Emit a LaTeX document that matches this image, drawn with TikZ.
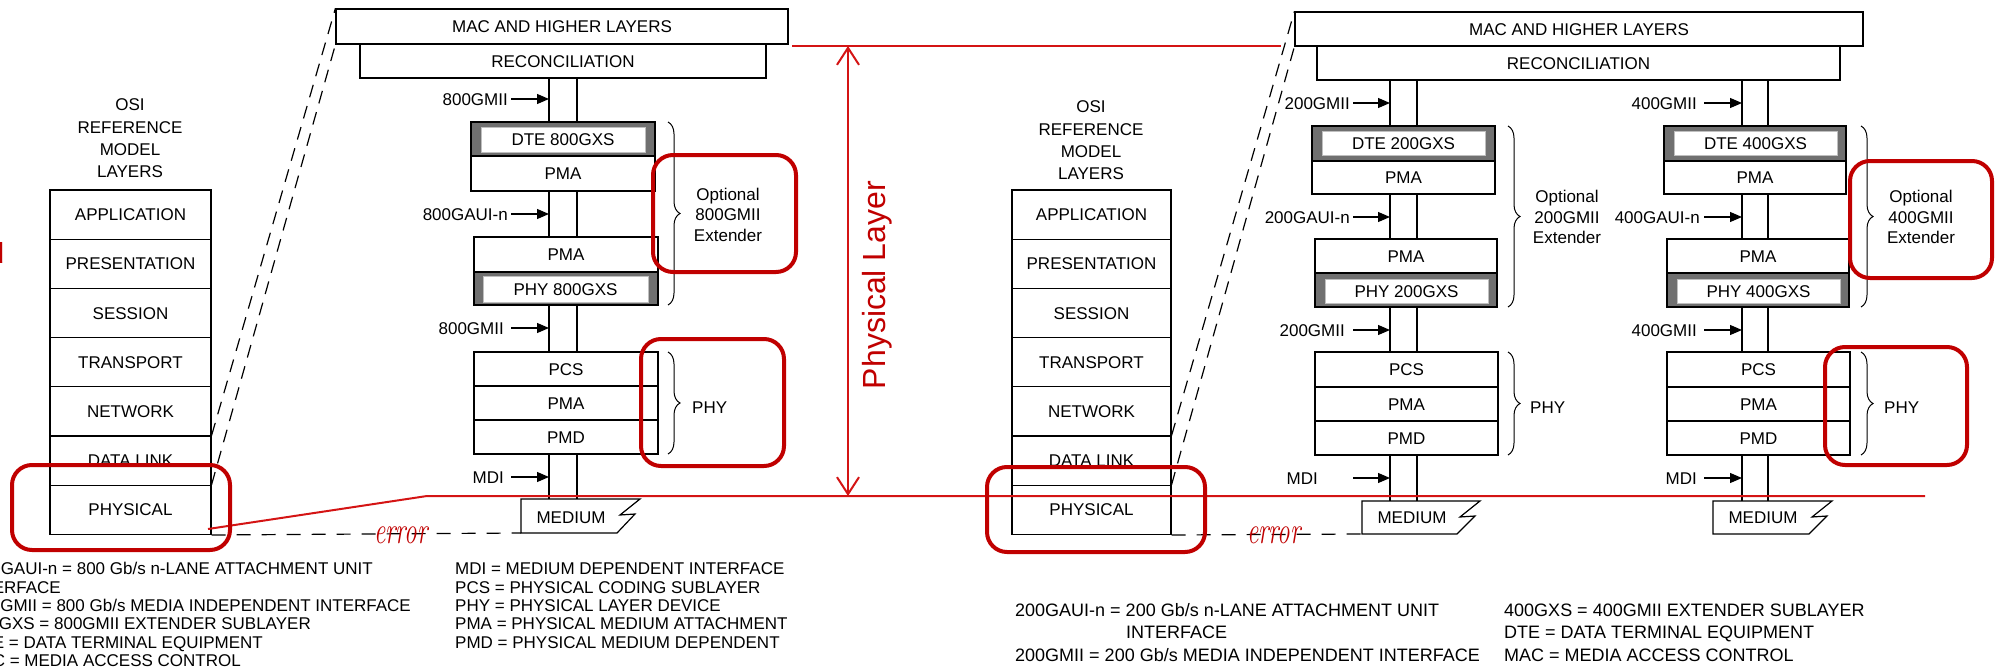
\documentclass[tikz,border=0pt]{standalone}
\usepackage{fontspec}
\usepackage{graphicx}
\setmainfont{Liberation Sans}
\newfontfamily\errfont{Latin Modern Roman}
\usetikzlibrary{arrows.meta,decorations.pathreplacing}
\definecolor{boxred}{RGB}{192,0,0}
\definecolor{linered}{RGB}{212,20,20}
\definecolor{gxsgray}{RGB}{112,112,112}
\newcommand\mkbox[7]{%
  \pgfmathsetmacro\myW{#5-#3}%
  \pgfmathsetmacro\myH{#6-#4}%
  \pgfmathsetmacro\myX{(#3+#5)/2}%
  \pgfmathsetmacro\myY{(#4+#6)/2}%
  \node[#1, minimum width=\myW pt, minimum height=\myH pt] (#2) at (\myX,\myY) {#7};}
\newcommand\mymedium[5]{% name, left, top, bottom, top-right
  \draw[mline] (#2,#3) coordinate (#1nw) -- (#5,#3) -- (#5-20,#3+16) -- (#5-5,#3+15) -- (#5-23,#4) -- (#2,#4) coordinate (#1sw) -- cycle;}
\tikzset{
  box/.style={draw=black, line width=1.2pt, inner sep=0pt, font=\fontsize{17}{17}\selectfont, text height=12.2pt, text depth=0pt},
  gxs/.style={draw=black, line width=1.2pt, fill=gxsgray, inner sep=0pt},
  gxsin/.style={draw=black!25, line width=0.8pt, fill=white, inner sep=0pt, font=\fontsize{17}{17}\selectfont, text height=12.2pt, text depth=0pt},
  lbl/.style={inner sep=0pt, font=\fontsize{17}{17}\selectfont, text height=12.2pt, text depth=0pt},
  opt/.style={inner sep=0pt, align=center, font=\fontsize{17}{20.5}\selectfont},
  osititle/.style={inner sep=0pt, align=center, font=\fontsize{17}{22.3}\selectfont},
  chan/.style={line width=1.2pt},
  mline/.style={line width=1.2pt},
  ifarrow/.style={line width=1.2pt, -{Triangle[length=12pt,width=10pt]}},
  brc/.style={decorate, decoration={brace, amplitude=12pt}, line width=1pt},
  redbox/.style={draw=boxred, line width=4pt, rounded corners=20pt},
  redline/.style={draw=linered, line width=2pt},
  osidash/.style={dash pattern=on 13pt off 9pt, line width=1.2pt},
  meddash/.style={dash pattern=on 14pt off 11pt, line width=1.2pt},
  legl/.style={inner sep=0pt, font=\fontsize{17}{17}\selectfont, anchor=base east},
  legw/.style={inner sep=0pt, font=\fontsize{17}{17}\selectfont, anchor=base west},
  legr/.style={inner sep=0pt, font=\fontsize{18}{18}\selectfont, anchor=base west},
  errtxt/.style={inner sep=0pt, text=boxred, anchor=base, font=\fontsize{38}{38}\selectfont},
}
\begin{document}
\begin{tikzpicture}[x=1pt,y=-1pt]
\useasboundingbox (0,0) rectangle (1995,669);

% ---------------- LEFT OSI ----------------
\node[osititle] (osiL) at (130,138.5) {OSI\\REFERENCE\\MODEL\\LAYERS};
\mkbox{box}{apL}{50}{190}{211}{239.2}{APPLICATION}
\mkbox{box}{prL}{50}{239.2}{211}{288.4}{PRESENTATION}
\mkbox{box}{seL}{50}{288.4}{211}{337.6}{SESSION}
\mkbox{box}{trL}{50}{337.6}{211}{386.8}{TRANSPORT}
\mkbox{box}{neL}{50}{386.8}{211}{436}{NETWORK}
\mkbox{box}{dlL}{50}{436}{211}{485.2}{DATA LINK}
\mkbox{box}{phL}{50}{485.2}{211}{534.4}{PHYSICAL}

% ---------------- LEFT 800G STACK ----------------
\mkbox{box}{macL}{336}{9}{788}{44}{MAC AND HIGHER LAYERS}
\mkbox{box}{recL}{360}{44}{766}{78}{RECONCILIATION}
\mkbox{gxs}{dteL}{471}{122}{655}{156}{}
\mkbox{gxsin}{dteLi}{481}{127}{645}{152}{DTE 800GXS}
\mkbox{box}{pmaLa}{471}{156}{655}{191}{PMA}
\mkbox{box}{pmaLb}{474}{237}{658}{272}{PMA}
\mkbox{gxs}{phyxL}{474}{272}{658}{305}{}
\mkbox{gxsin}{phyxLi}{483}{276}{648}{302}{PHY 800GXS}
\mkbox{box}{pcsL}{474}{352}{658}{386}{PCS}
\mkbox{box}{pmaLc}{474}{386}{658}{420}{PMA}
\mkbox{box}{pmdL}{474}{420}{658}{454}{PMD}
\mymedium{medL}{521}{499}{533}{640}
\node[lbl] (medLt) at (571,517) {MEDIUM};

\coordinate (cLa) at (549,0);
\coordinate (cLb) at (577,0);
\coordinate (aLs) at (511,0);
\foreach \c in {cLa,cLb}{
  \draw[chan] (recL.south -| \c) -- (dteL.north -| \c);
  \draw[chan] (pmaLa.south -| \c) -- (pmaLb.north -| \c);
  \draw[chan] (phyxL.south -| \c) -- (pcsL.north -| \c);
  \draw[chan] (pmdL.south -| \c) -- (medLnw -| \c);
}
\node[lbl, anchor=east] (gLa) at (508,99) {800GMII};
\node[lbl, anchor=east] (auL) at (508,214) {800GAUI-n};
\node[lbl, anchor=east] (gLb) at (504,328) {800GMII};
\node[lbl, anchor=east] (mdiL) at (504,477) {MDI};
\foreach \n in {gLa,auL,gLb,mdiL}{
  \draw[ifarrow] (\n.east -| aLs) -- (\n.east -| cLa);
}
\draw[brc] (668,122) -- (668,305);
\draw[brc] (668,352) -- (668,454);
\node[opt] (optL) at (728,214.5) {Optional\\800GMII\\Extender};
\node[lbl, anchor=west] (phyL) at (692,407) {PHY};

\draw[osidash] (dlL.north east) -- (macL.north west);
\draw[osidash] (phL.north east) -- (macL.south west);
\draw[meddash] (phL.south east) -- (medLsw);

% ---------------- RIGHT OSI ----------------
\node[osititle] (osiR) at (1091,140.5) {OSI\\REFERENCE\\MODEL\\LAYERS};
\mkbox{box}{apR}{1012}{190}{1171}{239.2}{APPLICATION}
\mkbox{box}{prR}{1012}{239.2}{1171}{288.4}{PRESENTATION}
\mkbox{box}{seR}{1012}{288.4}{1171}{337.6}{SESSION}
\mkbox{box}{trR}{1012}{337.6}{1171}{386.8}{TRANSPORT}
\mkbox{box}{neR}{1012}{386.8}{1171}{436}{NETWORK}
\mkbox{box}{dlR}{1012}{436}{1171}{485.2}{DATA LINK}
\mkbox{box}{phR}{1012}{485.2}{1171}{534.4}{PHYSICAL}

% ---------------- RIGHT STACKS ----------------
\mkbox{box}{macR}{1295}{12}{1863}{46}{MAC AND HIGHER LAYERS}
\mkbox{box}{recR}{1317}{46}{1840}{80}{RECONCILIATION}
% 200G
\mkbox{gxs}{dteR}{1312}{126}{1495}{161}{}
\mkbox{gxsin}{dteRi}{1322}{131}{1485}{155}{DTE 200GXS}
\mkbox{box}{pmaRa}{1312}{161}{1495}{194}{PMA}
\mkbox{box}{pmaRb}{1315}{239}{1497}{273}{PMA}
\mkbox{gxs}{phyxR}{1315}{273}{1497}{307}{}
\mkbox{gxsin}{phyxRi}{1325}{279}{1488}{303}{PHY 200GXS}
\mkbox{box}{pcsR}{1315}{352}{1498}{387}{PCS}
\mkbox{box}{pmaRc}{1315}{387}{1498}{421}{PMA}
\mkbox{box}{pmdR}{1315}{421}{1498}{455}{PMD}
\mymedium{medR}{1362}{501}{534}{1480}
\node[lbl] (medRt) at (1412,517) {MEDIUM};
% 400G
\mkbox{gxs}{dteS}{1664}{126}{1846}{161}{}
\mkbox{gxsin}{dteSi}{1674}{131}{1837}{155}{DTE 400GXS}
\mkbox{box}{pmaSa}{1664}{161}{1846}{194}{PMA}
\mkbox{box}{pmaSb}{1667}{239}{1849}{273}{PMA}
\mkbox{gxs}{phyxS}{1667}{273}{1849}{307}{}
\mkbox{gxsin}{phyxSi}{1677}{279}{1840}{303}{PHY 400GXS}
\mkbox{box}{pcsS}{1667}{352}{1850}{387}{PCS}
\mkbox{box}{pmaSc}{1667}{387}{1850}{421}{PMA}
\mkbox{box}{pmdS}{1667}{421}{1850}{455}{PMD}
\mymedium{medS}{1713}{501}{534}{1832}
\node[lbl] (medSt) at (1763,517) {MEDIUM};

\coordinate (cRa) at (1390,0);
\coordinate (cRb) at (1417,0);
\coordinate (cSa) at (1742,0);
\coordinate (cSb) at (1768,0);
\foreach \c in {cRa,cRb}{
  \draw[chan] (recR.south -| \c) -- (dteR.north -| \c);
  \draw[chan] (pmaRa.south -| \c) -- (pmaRb.north -| \c);
  \draw[chan] (phyxR.south -| \c) -- (pcsR.north -| \c);
  \draw[chan] (pmdR.south -| \c) -- (medRnw -| \c);
}
\foreach \c in {cSa,cSb}{
  \draw[chan] (recR.south -| \c) -- (dteS.north -| \c);
  \draw[chan] (pmaSa.south -| \c) -- (pmaSb.north -| \c);
  \draw[chan] (phyxS.south -| \c) -- (pcsS.north -| \c);
  \draw[chan] (pmdS.south -| \c) -- (medSnw -| \c);
}
\coordinate (aRs) at (1353,0);
\coordinate (aSs) at (1704,0);
\node[lbl, anchor=east] (gRa) at (1350,103) {200GMII};
\node[lbl, anchor=east] (auR) at (1350,217) {200GAUI-n};
\node[lbl, anchor=east] (gRb) at (1345,330) {200GMII};
\node[lbl, anchor=east] (mdiR) at (1318,478) {MDI};
\foreach \n in {gRa,auR,gRb,mdiR}{
  \draw[ifarrow] (\n.east -| aRs) -- (\n.east -| cRa);
}
\node[lbl, anchor=east] (gSa) at (1697,103) {400GMII};
\node[lbl, anchor=east] (auS) at (1700,217) {400GAUI-n};
\node[lbl, anchor=east] (gSb) at (1697,330) {400GMII};
\node[lbl, anchor=east] (mdiS) at (1697,478) {MDI};
\foreach \n in {gSa,auS,gSb,mdiS}{
  \draw[ifarrow] (\n.east -| aSs) -- (\n.east -| cSa);
}
\draw[brc] (1508,126) -- (1508,307);
\draw[brc] (1508,352) -- (1508,455);
\draw[brc] (1861,126) -- (1861,307);
\draw[brc] (1861,352) -- (1861,455);
\node[opt] (optR) at (1567,217) {Optional\\200GMII\\Extender};
\node[opt] (optS) at (1921,217) {Optional\\400GMII\\Extender};
\node[lbl, anchor=west] (phyR) at (1530,407) {PHY};
\node[lbl, anchor=west] (phyS) at (1884,407) {PHY};

\draw[osidash] (dlR.north east) -- (macR.north west);
\draw[osidash] (phR.north east) -- (macR.south west);
\draw[meddash] (phR.south east) -- (medRsw);

% ---------------- LEGENDS ----------------
\node[legl] (lg1) at (373,574) {800GAUI-n = 800 Gb/s n-LANE ATTACHMENT UNIT};
\node[legl] (lg2) at (61,593) {INTERFACE};
\node[legl] (lg3) at (411,611) {800GMII = 800 Gb/s MEDIA INDEPENDENT INTERFACE};
\node[legl] (lg4) at (311,629) {800GXS = 800GMII EXTENDER SUBLAYER};
\node[legl] (lg5) at (263,648) {DTE = DATA TERMINAL EQUIPMENT};
\node[legl] (lg6) at (241,666) {MAC = MEDIA ACCESS CONTROL};
\node[legw] (lm1) at (455,574) {MDI = MEDIUM DEPENDENT INTERFACE};
\node[legw] (lm2) at (455,593) {PCS = PHYSICAL CODING SUBLAYER};
\node[legw] (lm3) at (455,611) {PHY = PHYSICAL LAYER DEVICE};
\node[legw] (lm4) at (455,629) {PMA = PHYSICAL MEDIUM ATTACHMENT};
\node[legw] (lm5) at (455,648) {PMD = PHYSICAL MEDIUM DEPENDENT};
\node[legr] (lr1) at (1015,616.5) {200GAUI-n = 200 Gb/s n-LANE ATTACHMENT UNIT};
\node[legr] (lr2) at (1126,638.5) {INTERFACE};
\node[legr] (lr3) at (1015,661.5) {200GMII = 200 Gb/s MEDIA INDEPENDENT INTERFACE};
\node[legr] (ls1) at (1504,616.5) {400GXS = 400GMII EXTENDER SUBLAYER};
\node[legr] (ls2) at (1504,638.5) {DTE = DATA TERMINAL EQUIPMENT};
\node[legr] (ls3) at (1504,661.5) {MAC = MEDIA ACCESS CONTROL};

% ---------------- RED ANNOTATIONS ----------------
\coordinate (rTa) at (792,46);
\coordinate (rTb) at (1281,46);
\coordinate (rBa) at (208,529);
\coordinate (rBb) at (427,496);
\coordinate (rBc) at (1925,496);
\coordinate (vTop) at (848,46);
\coordinate (vBot) at (848,496);
\draw[redline] (rTa) -- (rTb);
\draw[redline] (rBa) -- (rBb) -- (rBc);
\draw[redline, {Straight Barb[length=17pt,width=22pt]}-{Straight Barb[length=17pt,width=22pt]}] (vTop) -- (vBot);
\node[inner sep=0pt, rotate=90, anchor=base, text=boxred, font=\fontsize{32}{32}\selectfont] (plab) at (885,285) {Physical Layer};
\node[inner sep=0pt, anchor=base east, text=boxred, font=\fontsize{29}{29}\selectfont] (redd) at (4.5,263) {d};

\draw[redbox] (12,465) rectangle (230,550);
\draw[redbox] (653,155) rectangle (796,272);
\draw[redbox] (641,339) rectangle (784,466);
\draw[redbox] (987,467) rectangle (1205,552);
\draw[redbox] (1850,161) rectangle (1992,278);
\draw[redbox] (1825,347) rectangle (1967,465);

\node[errtxt] (errL) at (401,543) {\scalebox{0.66}[1]{\errfont\itshape error}};
\node[errtxt] (errR) at (1274,543) {\scalebox{0.66}[1]{\errfont\itshape error}};
\end{tikzpicture}
\end{document}
